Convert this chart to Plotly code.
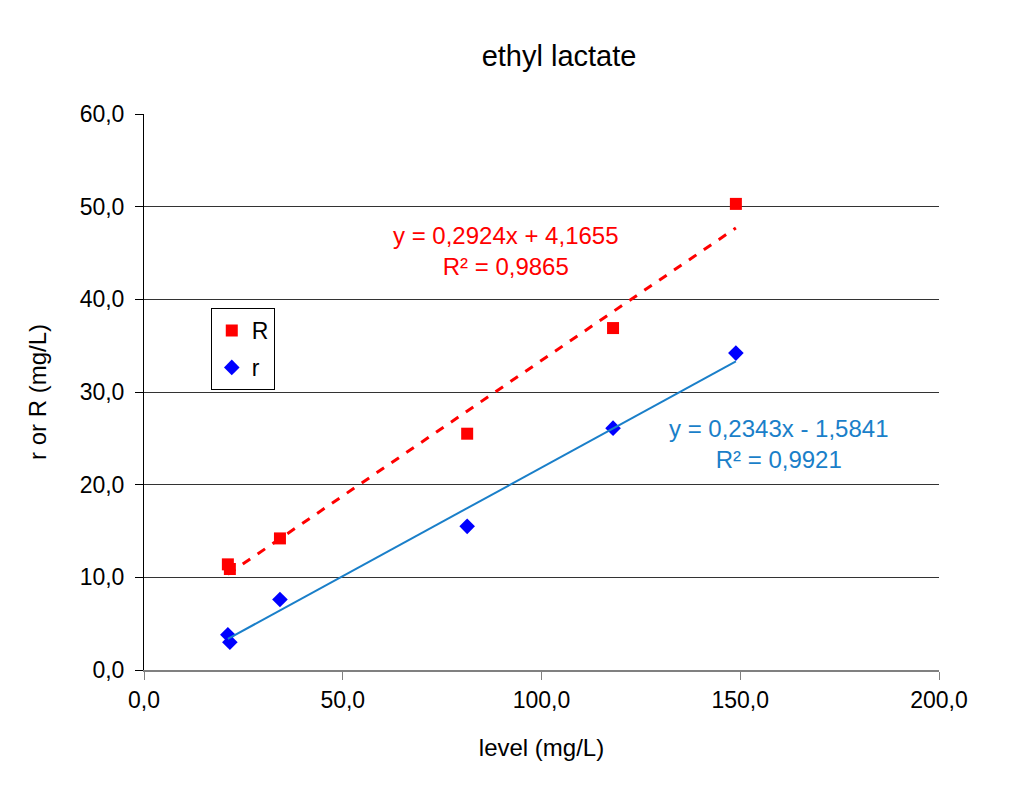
import numpy as np
import plotly.graph_objects as go

# data
level_R = [21.1, 21.6, 34.2, 81.3, 118.0, 148.9]
R_vals = [11.4, 10.9, 14.2, 25.5, 36.9, 50.3]
level_r = [21.1, 21.6, 34.2, 81.3, 118.0, 148.9]
r_vals = [3.8, 3.0, 7.6, 15.5, 26.1, 34.2]

# trendline coefficients (slope, intercept) as printed on the chart
fit_R = [0.2924, 4.1655]
fit_r = [0.2343, -1.5841]

y_ticks = [0, 10, 20, 30, 40, 50, 60]
x_ticks = [0, 50, 100, 150, 200]

FONT = "Liberation Sans, Arial, sans-serif"

xr = np.array([min(level_R), max(level_R)])

fig = go.Figure()

fig.add_trace(go.Scatter(
    x=level_R, y=R_vals, mode="markers", name="R", legendgroup="R",
    marker=dict(symbol="square", size=12, color="#ff0000"),
))
fig.add_trace(go.Scatter(
    x=level_r, y=r_vals, mode="markers", name="r", legendgroup="r",
    marker=dict(symbol="diamond", size=12, color="#0000ff"),
))

# trendlines
fig.add_trace(go.Scatter(
    x=xr, y=fit_R[0] * xr + fit_R[1], mode="lines", showlegend=False,
    line=dict(color="#ff0000", width=3, dash="dash"), hoverinfo="skip",
))
fig.add_trace(go.Scatter(
    x=xr, y=fit_r[0] * xr + fit_r[1], mode="lines", showlegend=False,
    line=dict(color="#1a7fc9", width=2), hoverinfo="skip",
))

fig.add_annotation(
    x=0.455, y=0.753, xref="paper", yref="paper", xanchor="center", yanchor="middle",
    text="y = 0,2924x + 4,1655<br>R² = 0,9865", showarrow=False,
    font=dict(family=FONT, size=24, color="#ff0000"), align="center",
)
fig.add_annotation(
    x=0.799, y=0.407, xref="paper", yref="paper", xanchor="center", yanchor="middle",
    text="y = 0,2343x - 1,5841<br>R² = 0,9921", showarrow=False,
    font=dict(family=FONT, size=24, color="#1a7fc9"), align="center",
)

fig.update_layout(
    width=1025, height=792,
    margin=dict(l=136, r=94, t=106, b=130),
    paper_bgcolor="white", plot_bgcolor="white",
    separators=",.",
    font=dict(family=FONT, size=23, color="black"),
    title=dict(text="ethyl lactate", x=0.5376, xanchor="center",
               y=0.939, yanchor="middle",
               font=dict(family=FONT, size=29, color="black")),
    legend=dict(
        x=0.084, y=0.651, xanchor="left", yanchor="top",
        bordercolor="black", borderwidth=1, bgcolor="white",
        font=dict(family=FONT, size=23), itemwidth=30,
        tracegroupgap=4,
    ),
    showlegend=True,
)

fig.update_xaxes(
    range=[0, 200], tickvals=x_ticks, tickformat=".1f",
    showgrid=False, zeroline=False,
    showline=True, linecolor="#808080", linewidth=2,
    ticks="outside", ticklen=8, tickcolor="#808080",
    title=dict(text="level (mg/L)", standoff=28, font=dict(size=24)),
)
fig.update_yaxes(
    range=[0, 60], tickvals=y_ticks, tickformat=".1f",
    showgrid=True, gridcolor="#333333", gridwidth=1, zeroline=False,
    showline=True, linecolor="black", linewidth=1,
    ticks="outside", ticklen=8, tickcolor="black", ticklabelstandoff=6,
    title=dict(text="r or R (mg/L)", standoff=26, font=dict(size=24)),
)

fig.write_html("out.html")
